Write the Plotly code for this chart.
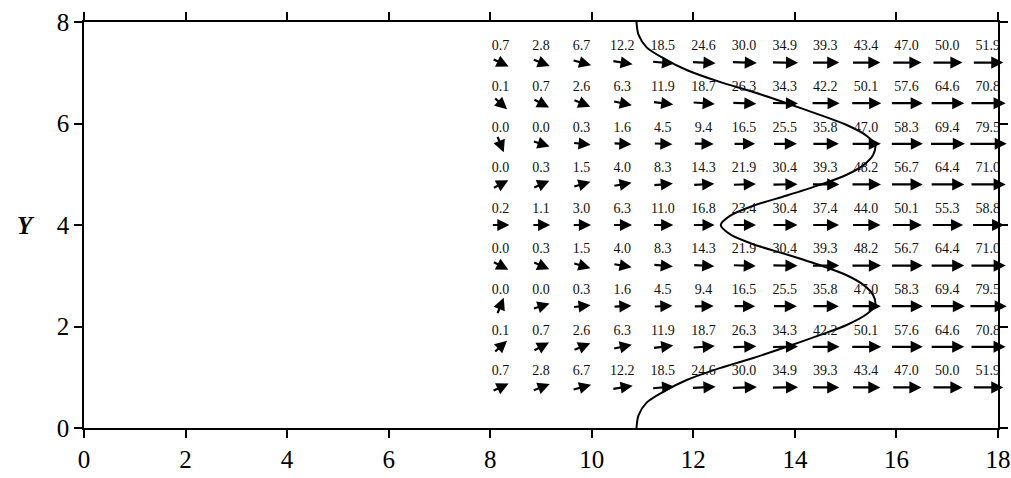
# ##### Imports #####
import math
import plotly.graph_objects as go

# ##### Data #####
# Grid nodes of the vector field (x columns, y rows from top to bottom)
x_nodes = [8.2, 9.0, 9.8, 10.6, 11.4, 12.2, 13.0, 13.8, 14.6, 15.4, 16.2, 17.0, 17.8]
y_nodes = [7.2, 6.4, 5.6, 4.8, 4.0, 3.2, 2.4, 1.6, 0.8]

# Printed magnitudes, one list per row
speed_72 = [0.7, 2.8, 6.7, 12.2, 18.5, 24.6, 30.0, 34.9, 39.3, 43.4, 47.0, 50.0, 51.9]
speed_64 = [0.1, 0.7, 2.6, 6.3, 11.9, 18.7, 26.3, 34.3, 42.2, 50.1, 57.6, 64.6, 70.8]
speed_56 = [0.0, 0.0, 0.3, 1.6, 4.5, 9.4, 16.5, 25.5, 35.8, 47.0, 58.3, 69.4, 79.5]
speed_48 = [0.0, 0.3, 1.5, 4.0, 8.3, 14.3, 21.9, 30.4, 39.3, 48.2, 56.7, 64.4, 71.0]
speed_40 = [0.2, 1.1, 3.0, 6.3, 11.0, 16.8, 23.4, 30.4, 37.4, 44.0, 50.1, 55.3, 58.8]
speed_32 = [0.0, 0.3, 1.5, 4.0, 8.3, 14.3, 21.9, 30.4, 39.3, 48.2, 56.7, 64.4, 71.0]
speed_24 = [0.0, 0.0, 0.3, 1.6, 4.5, 9.4, 16.5, 25.5, 35.8, 47.0, 58.3, 69.4, 79.5]
speed_16 = [0.1, 0.7, 2.6, 6.3, 11.9, 18.7, 26.3, 34.3, 42.2, 50.1, 57.6, 64.6, 70.8]
speed_08 = [0.7, 2.8, 6.7, 12.2, 18.5, 24.6, 30.0, 34.9, 39.3, 43.4, 47.0, 50.0, 51.9]

# Arrow directions in degrees (positive = up)
angle_72 = [-25, -21, -15, -9, -5, -3, -2, -1, 0, 0, 0, 0, 0]
angle_64 = [-42, -28, -22, -12, -7, -4, -2, -1, 0, 0, 0, 0, 0]
angle_56 = [-68, -18, -6, -3, -2, -1, 0, 0, 0, 0, 0, 0, 0]
angle_48 = [28, 24, 16, 10, 5, 3, 2, 1, 0, 0, 0, 0, 0]
angle_40 = [0, 0, 0, 0, 0, 0, 0, 0, 0, 0, 0, 0, 0]
angle_32 = [-28, -24, -16, -10, -5, -3, -2, -1, 0, 0, 0, 0, 0]
angle_24 = [68, 18, 6, 3, 2, 1, 0, 0, 0, 0, 0, 0, 0]
angle_16 = [42, 28, 22, 12, 7, 4, 2, 1, 0, 0, 0, 0, 0]
angle_08 = [25, 21, 15, 9, 5, 3, 2, 1, 0, 0, 0, 0, 0]

# Wavy profile line
profile_x = [10.88, 10.92, 11.08, 11.42, 11.88, 12.52, 13.18, 13.84, 14.49, 15.02, 15.41, 15.58,
             15.54, 15.35, 15.02, 14.49, 13.84, 13.18, 12.72, 12.54, 12.72, 13.18, 13.84, 14.49,
             15.02, 15.35, 15.54, 15.58, 15.41, 15.02, 14.49, 13.84, 13.18, 12.52, 11.88, 11.42,
             11.08, 10.92, 10.88]
profile_y = [8.0, 7.75, 7.5, 7.28, 7.05, 6.82, 6.62, 6.40, 6.17, 5.97, 5.76, 5.58,
             5.38, 5.18, 4.99, 4.79, 4.58, 4.38, 4.18, 4.0, 3.82, 3.62, 3.42, 3.21,
             3.01, 2.82, 2.62, 2.42, 2.24, 2.03, 1.83, 1.60, 1.38, 1.18, 0.95, 0.72,
             0.5, 0.25, 0.0]

x_ticks = [0, 2, 4, 6, 8, 10, 12, 14, 16, 18]
y_ticks = [0, 2, 4, 6, 8]

speed_rows = [speed_72, speed_64, speed_56, speed_48, speed_40, speed_32, speed_24, speed_16, speed_08]
angle_rows = [angle_72, angle_64, angle_56, angle_48, angle_40, angle_32, angle_24, angle_16, angle_08]

SERIF = "Liberation Serif, Times New Roman, serif"

# ##### Figure #####
fig = go.Figure()

# --- Profile curve ---
fig.add_trace(go.Scatter(
    x=profile_x, y=profile_y, mode='lines',
    line=dict(color='black', width=2, shape='spline', smoothing=0.8),
    hoverinfo='skip'
))

# --- Value labels above each arrow ---
lab_x, lab_y, lab_t = [], [], []
for yv, row in zip(y_nodes, speed_rows):
    for xv, v in zip(x_nodes, row):
        lab_x.append(xv)
        lab_y.append(yv + 0.31)
        lab_t.append(f"{v:.1f}")
fig.add_trace(go.Scatter(
    x=lab_x, y=lab_y, mode='text', text=lab_t,
    textposition='middle center',
    textfont=dict(family=SERIF, size=14, color='#111111'),
    cliponaxis=False, hoverinfo='skip'
))

# --- Arrows (centred on the grid nodes) ---
for yv, srow, arow in zip(y_nodes, speed_rows, angle_rows):
    for xv, v, a in zip(x_nodes, srow, arow):
        L = 18 + 0.25 * v  # arrow length in px
        c, s = math.cos(math.radians(a)), math.sin(math.radians(a))
        fig.add_annotation(
            x=xv, y=yv, xref='x', yref='y', text='',
            showarrow=True, ax=-L * c, ay=L * s, axref='pixel', ayref='pixel',
            xshift=L * c / 2, yshift=L * s / 2,
            arrowhead=2, arrowsize=1.1, arrowwidth=2.2, arrowcolor='black', standoff=0
        )

# --- Y label ---
fig.add_annotation(
    x=-0.064, y=4, xref='paper', yref='y', text='<b><i>Y</i></b>',
    showarrow=False, xanchor='center', yanchor='middle',
    font=dict(family=SERIF, size=25, color='black')
)

# --- Layout ---
axis_style = dict(
    showline=True, linecolor='black', linewidth=1.5, mirror='ticks',
    ticks='outside', ticklen=8, tickwidth=1.5, tickcolor='black',
    showgrid=False, zeroline=False, automargin=False,
    tickfont=dict(family=SERIF, size=25, color='black')
)
fig.update_layout(
    width=1011, height=478,
    margin=dict(l=84, r=13, t=22, b=50),
    plot_bgcolor='white', paper_bgcolor='white',
    showlegend=False,
    xaxis=dict(range=[0, 18], tickvals=x_ticks, **axis_style),
    yaxis=dict(range=[0, 8], tickvals=y_ticks, **axis_style),
)

# drop the default 8 px page margin so the figure fills the window exactly
fig.write_html("out.html", config={'displayModeBar': False},
               post_script="document.body.style.margin = '0';")
